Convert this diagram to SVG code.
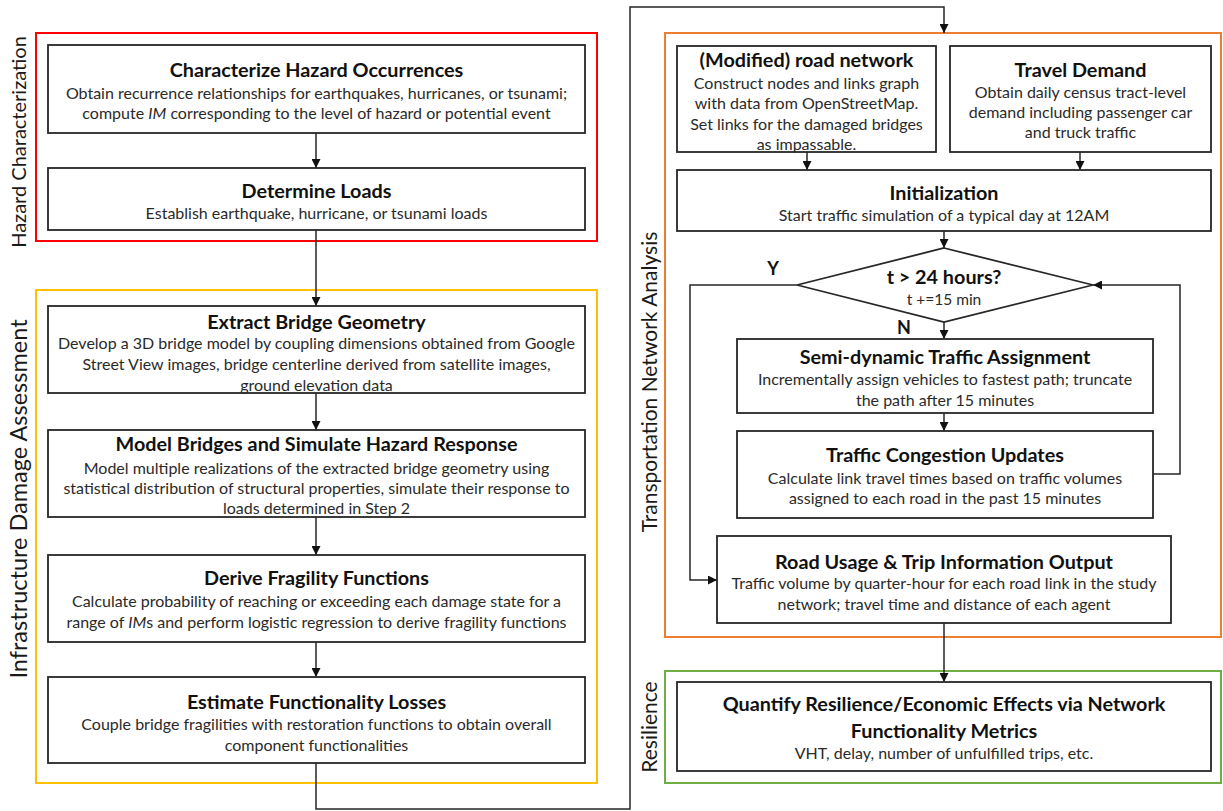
<svg xmlns="http://www.w3.org/2000/svg" width="1223" height="811" viewBox="0 0 1223 811">
<style>
.bg{fill:#ffffff}
.box{fill:#ffffff;stroke:#262626;stroke-width:1.8}
.grp{fill:none;stroke-width:2}
.t{font-family:Lato,"Liberation Sans",sans-serif;font-weight:bold;font-size:19.8px;fill:#111;text-anchor:middle}
.b{font-family:Lato,"Liberation Sans",sans-serif;font-size:16px;fill:#2a2a2a;text-anchor:middle}
.s{font-family:Lato,"Liberation Sans",sans-serif;font-size:20px;fill:#1a1a1a;text-anchor:middle}
.lbl{font-family:Lato,"Liberation Sans",sans-serif;font-weight:bold;font-size:18px;fill:#111;text-anchor:middle}
.c{fill:none;stroke:#262626;stroke-width:1.5}
</style>
<defs>
<marker id="ah" viewBox="0 0 10 10" refX="10" refY="5" markerWidth="9" markerHeight="9" markerUnits="userSpaceOnUse" orient="auto">
<path d="M0,0 L10,5 L0,10 z" fill="#111"/>
</marker>
</defs>
<rect class="bg" x="0" y="0" width="1223" height="811"/>

<g id="groups">
<rect class="grp" x="36" y="33" width="561" height="208" stroke="#ff0000"/>
<rect class="grp" x="36" y="290" width="561" height="493" stroke="#ffc000"/>
<rect class="grp" x="665" y="33" width="556" height="604" stroke="#ed7d31"/>
<rect class="grp" x="665" y="671" width="556" height="112" stroke="#70ad47"/>
<text class="s" transform="translate(26,142) rotate(-90)">Hazard Characterization</text>
<text class="s" style="font-size:23.5px" transform="translate(27,499) rotate(-90)">Infrastructure Damage Assessment</text>
<text class="s" style="font-size:21px" transform="translate(657,382) rotate(-90)">Transportation Network Analysis</text>
<text class="s" style="font-size:21px" transform="translate(657,727) rotate(-90)">Resilience</text>
</g>

<g id="connectors">
<path class="c" d="M316,133 V168" marker-end="url(#ah)"/>
<path class="c" d="M316,230 V306" marker-end="url(#ah)"/>
<path class="c" d="M316,393 V430" marker-end="url(#ah)"/>
<path class="c" d="M316,517 V555" marker-end="url(#ah)"/>
<path class="c" d="M316,642 V677" marker-end="url(#ah)"/>
<path class="c" d="M316,763 V809 H630 V7 H944 V33" marker-end="url(#ah)"/>
<path class="c" d="M807,152 V170" marker-end="url(#ah)"/>
<path class="c" d="M1080,152 V170" marker-end="url(#ah)"/>
<path class="c" d="M944,231 V248" marker-end="url(#ah)"/>
<path class="c" d="M944,322 V339" marker-end="url(#ah)"/>
<path class="c" d="M944,413 V431" marker-end="url(#ah)"/>
<path class="c" d="M1153,474 H1180 V285 H1093" marker-end="url(#ah)"/>
<path class="c" d="M797,285 H690 V580 H717" marker-end="url(#ah)"/>
<path class="c" d="M944,623 V682" marker-end="url(#ah)"/>
<text class="lbl" x="773" y="275">Y</text>
<text class="lbl" x="904" y="334">N</text>
</g>

<g id="n1">
<rect class="box" x="48" y="45" width="537" height="88"/>
<text class="t" x="316.5" y="77">Characterize Hazard Occurrences</text>
<text class="b" x="316.5" y="99">Obtain recurrence relationships for earthquakes, hurricanes, or tsunami;</text>
<text class="b" x="316.5" y="119">compute <tspan font-style="italic">IM</tspan> corresponding to the level of hazard or potential event</text>
</g>
<g id="n2">
<rect class="box" x="48" y="168" width="537" height="62"/>
<text class="t" x="316.5" y="198">Determine Loads</text>
<text class="b" x="316.5" y="219">Establish earthquake, hurricane, or tsunami loads</text>
</g>
<g id="n3">
<rect class="box" x="48" y="306" width="537" height="87"/>
<text class="t" x="316.5" y="329">Extract Bridge Geometry</text>
<text class="b" x="316.5" y="349">Develop a 3D bridge model by coupling dimensions obtained from Google</text>
<text class="b" x="316.5" y="370">Street View images, bridge centerline derived from satellite images,</text>
<text class="b" x="316.5" y="391">ground elevation data</text>
</g>
<g id="n4">
<rect class="box" x="48" y="430" width="537" height="87"/>
<text class="t" x="316.5" y="451">Model Bridges and Simulate Hazard Response</text>
<text class="b" x="316.5" y="474">Model multiple realizations of the extracted bridge geometry using</text>
<text class="b" x="316.5" y="494">statistical distribution of structural properties, simulate their response to</text>
<text class="b" x="316.5" y="514">loads determined in Step 2</text>
</g>
<g id="n5">
<rect class="box" x="48" y="555" width="537" height="87"/>
<text class="t" x="316.5" y="585">Derive Fragility Functions</text>
<text class="b" x="316.5" y="607">Calculate probability of reaching or exceeding each damage state for a</text>
<text class="b" x="316.5" y="628">range of <tspan font-style="italic">IM</tspan>s and perform logistic regression to derive fragility functions</text>
</g>
<g id="n6">
<rect class="box" x="48" y="677" width="537" height="86"/>
<text class="t" x="316.5" y="709">Estimate Functionality Losses</text>
<text class="b" x="316.5" y="730">Couple bridge fragilities with restoration functions to obtain overall</text>
<text class="b" x="316.5" y="751">component functionalities</text>
</g>

<g id="n7">
<rect class="box" x="677" y="46" width="259" height="106"/>
<text class="t" x="806.5" y="67">(Modified) road network</text>
<text class="b" x="806.5" y="89">Construct nodes and links graph</text>
<text class="b" x="806.5" y="109">with data from OpenStreetMap.</text>
<text class="b" x="806.5" y="130">Set links for the damaged bridges</text>
<text class="b" x="806.5" y="150">as impassable.</text>
</g>
<g id="n8">
<rect class="box" x="950" y="46" width="261" height="106"/>
<text class="t" x="1080.5" y="77">Travel Demand</text>
<text class="b" x="1080.5" y="98">Obtain daily census tract-level</text>
<text class="b" x="1080.5" y="118">demand including passenger car</text>
<text class="b" x="1080.5" y="138">and truck traffic</text>
</g>
<g id="n9">
<rect class="box" x="677" y="170" width="534" height="61"/>
<text class="t" x="944" y="200">Initialization</text>
<text class="b" x="944" y="221">Start traffic simulation of a typical day at 12AM</text>
</g>
<g id="n10">
<polygon class="box" points="944,248 1093,285 944,322 797,285"/>
<text class="t" x="944" y="284">t &gt; 24 hours?</text>
<text class="b" x="944" y="305" style="font-size:15.5px">t +=15 min</text>
</g>
<g id="n11">
<rect class="box" x="737" y="339" width="416" height="74"/>
<text class="t" x="945" y="364">Semi-dynamic Traffic Assignment</text>
<text class="b" x="945" y="385">Incrementally assign vehicles to fastest path; truncate</text>
<text class="b" x="945" y="406">the path after 15 minutes</text>
</g>
<g id="n12">
<rect class="box" x="737" y="431" width="416" height="87"/>
<text class="t" x="945" y="462">Traffic Congestion Updates</text>
<text class="b" x="945" y="484">Calculate link travel times based on traffic volumes</text>
<text class="b" x="945" y="504">assigned to each road in the past 15 minutes</text>
</g>
<g id="n13">
<rect class="box" x="717" y="536" width="454" height="87"/>
<text class="t" x="944" y="569">Road Usage &amp; Trip Information Output</text>
<text class="b" x="944" y="589">Traffic volume by quarter-hour for each road link in the study</text>
<text class="b" x="944" y="610">network; travel time and distance of each agent</text>
</g>
<g id="n14">
<rect class="box" x="677" y="682" width="534" height="89"/>
<text class="t" x="944" y="711">Quantify Resilience/Economic Effects via Network</text>
<text class="t" x="944" y="738">Functionality Metrics</text>
<text class="b" x="944" y="759">VHT, delay, number of unfulfilled trips, etc.</text>
</g>
</svg>
